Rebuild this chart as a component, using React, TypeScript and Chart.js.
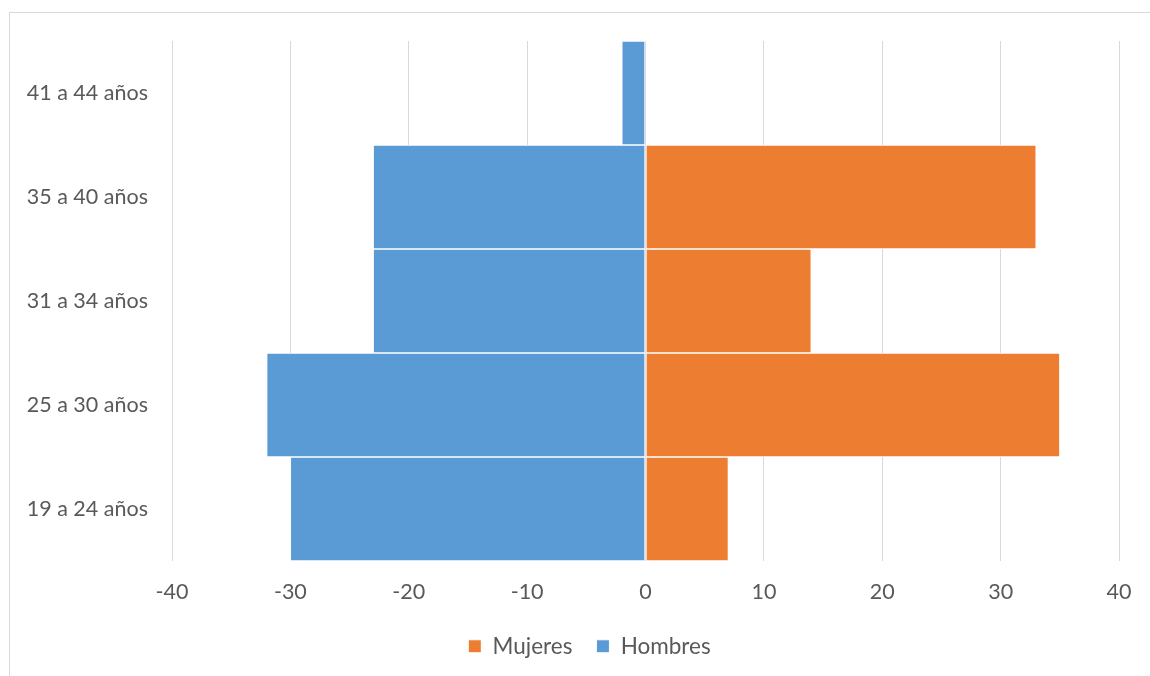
import React, { useEffect, useRef } from "react";
import { Chart, registerables } from "chart.js";

Chart.register(...registerables);

const categories = ["41 a 44 años", "35 a 40 años", "31 a 34 años", "25 a 30 años", "19 a 24 años"];
const mujeres = [0, 33, 14, 35, 7];
const hombres = [-2, -23, -23, -32, -30];
const xTicks = [-40, -30, -20, -10, 0, 10, 20, 30, 40];

const FONT = "Lato, 'Open Sans', sans-serif";
const TEXT = "#595959";

const legendShift = {
  id: "legendShift",
  afterLayout(chart: any) {
    const lg = chart.legend;
    if (lg) {
      lg.left += 25;
      lg.right += 25;
      if (lg.legendHitBoxes) lg.legendHitBoxes.forEach((h: any) => (h.left += 25));
    }
  },
};

export default function App() {
  const ref = useRef<HTMLCanvasElement | null>(null);

  useEffect(() => {
    if (!ref.current) return;
    const chart = new Chart(ref.current, {
      type: "bar",
      data: {
        labels: categories,
        datasets: [
          {
            label: "Mujeres",
            data: mujeres,
            backgroundColor: "#ED7D31",
            borderColor: "#ffffff",
            borderWidth: 1,
            borderSkipped: false,
            barPercentage: 1,
            categoryPercentage: 1,
          },
          {
            label: "Hombres",
            data: hombres,
            backgroundColor: "#5B9BD5",
            borderColor: "#ffffff",
            borderWidth: 1,
            borderSkipped: false,
            barPercentage: 1,
            categoryPercentage: 1,
          },
        ],
      },
      plugins: [legendShift],
      options: {
        indexAxis: "y",
        responsive: false,
        animation: false,
        devicePixelRatio: 1,
        layout: { autoPadding: false, padding: { left: 0, right: 31, top: 28, bottom: 8.5 } },
        plugins: {
          legend: {
            position: "bottom",
            labels: {
              boxWidth: 13,
              boxHeight: 13,
              padding: 24,
              color: TEXT,
              font: { family: FONT, size: 22.5 },
            },
          },
          tooltip: { enabled: false },
        },
        scales: {
          x: {
            stacked: true,
            min: -40,
            max: 40,
            afterBuildTicks: (axis: any) => {
              axis.ticks = xTicks.map((v) => ({ value: v }));
            },
            grid: { color: "#d9d9d9", lineWidth: 1, drawTicks: false },
            border: { display: false },
            ticks: {
              padding: 18,
              color: TEXT,
              font: { family: FONT, size: 21.5 },
              callback: (v: any) => String(v),
            },
            afterFit: (axis: any) => {
              axis.height = 50;
              axis.paddingLeft = 0;
              axis.paddingRight = 0;
            },
          },
          y: {
            stacked: true,
            grid: { display: false, drawTicks: false },
            border: { display: false },
            ticks: {
              padding: 24,
              color: TEXT,
              font: { family: FONT, size: 21.5 },
            },
            afterFit: (axis: any) => {
              axis.width = 162;
              axis.paddingTop = 0;
              axis.paddingBottom = 0;
            },
          },
        },
      },
    });
    return () => chart.destroy();
  }, []);

  return (
    <div style={{ position: "fixed", inset: 0, overflow: "hidden", background: "#fff" }}>
      <div
        style={{
          position: "absolute",
          left: 9,
          top: 12,
          width: 1200,
          height: 700,
          border: "1px solid #d9d9d9",
          boxSizing: "border-box",
        }}
      />
      <canvas
        ref={ref}
        width={1140}
        height={663}
        style={{ position: "absolute", left: 10, top: 13, width: 1140, height: 663 }}
      />
    </div>
  );
}
